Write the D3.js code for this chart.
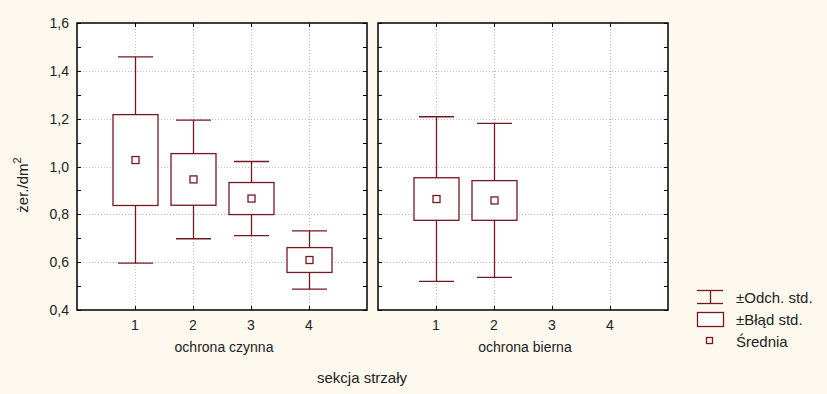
<!DOCTYPE html>
<html>
<head>
<meta charset="utf-8">
<script src="https://cdn.jsdelivr.net/npm/d3@7"></script>
<style>
  body { margin: 0; background: #fdf9ef; }
  svg { display: block; font-family: "Liberation Sans", Arial, sans-serif; }
</style>
</head>
<body>
<div id="chart"></div>
<script>
// sekcja strzały, one panel per type of protection
var sections = [1, 2, 3, 4];
var groups = ["ochrona czynna", "ochrona bierna"];
var yTicks = [0.4, 0.6, 0.8, 1.0, 1.2, 1.4, 1.6];

// mean, standard error and standard deviation
var meanCzynna = [1.027, 0.946, 0.866, 0.609];
var seCzynna = [0.190, 0.108, 0.067, 0.052];
var sdCzynna = [0.431, 0.248, 0.155, 0.122];
var meanBierna = [0.864, 0.858];
var seBierna = [0.089, 0.083];
var sdBierna = [0.344, 0.322];

var legendLabels = ["±Odch. std.", "±Błąd std.", "Średnia"];

var series = [
  {mean: meanCzynna, se: seCzynna, sd: sdCzynna},
  {mean: meanBierna, se: seBierna, sd: sdBierna}
];

var W = 827, H = 394;
var red = "#741822";
var panelW = 290, plotTop = 23, plotBottom = 310;
var panelX = [77, 378];

var svg = d3.select("#chart").append("svg")
  .attr("width", W).attr("height", H);

var y = d3.scaleLinear().domain([0.4, 1.6]).range([plotBottom, plotTop]);
var x = d3.scaleLinear().domain([0, 5]).range([0, panelW]);
var comma = d3.formatLocale({decimal: ",", thousands: " ", grouping: [3], currency: ["", ""]}).format(".1f");
var minor = d3.range(0.5, 1.6, 0.2);

groups.forEach(function(name, gi) {
  var g = svg.append("g").attr("transform", "translate(" + panelX[gi] + ",0)");
  var s = series[gi];

  g.append("rect")
    .attr("x", 0).attr("y", plotTop)
    .attr("width", panelW).attr("height", plotBottom - plotTop)
    .attr("fill", "#ffffff");

  // dotted grid
  g.selectAll("line.gy").data(yTicks.slice(1, -1)).enter().append("line")
    .attr("x1", 0).attr("x2", panelW)
    .attr("y1", function(d) { return Math.round(y(d)) + 0.5; })
    .attr("y2", function(d) { return Math.round(y(d)) + 0.5; })
    .attr("stroke", "#bdbdbd").attr("stroke-dasharray", "1,2");
  g.selectAll("line.gx").data(sections).enter().append("line")
    .attr("y1", plotTop).attr("y2", plotBottom)
    .attr("x1", function(d) { return Math.round(x(d)) + 0.5; })
    .attr("x2", function(d) { return Math.round(x(d)) + 0.5; })
    .attr("stroke", "#bdbdbd").attr("stroke-dasharray", "1,2");

  // inward ticks on every side
  var ticksY = yTicks.concat(minor);
  [0, panelW].forEach(function(edge) {
    var dir = edge === 0 ? 1 : -1;
    g.selectAll(null).data(ticksY).enter().append("line")
      .attr("x1", edge).attr("x2", edge + dir * 4)
      .attr("y1", function(d) { return Math.round(y(d)) + 0.5; })
      .attr("y2", function(d) { return Math.round(y(d)) + 0.5; })
      .attr("stroke", "#000");
  });
  [plotTop, plotBottom].forEach(function(edge) {
    var dir = edge === plotTop ? 1 : -1;
    g.selectAll(null).data(sections).enter().append("line")
      .attr("y1", edge).attr("y2", edge + dir * 4)
      .attr("x1", function(d) { return Math.round(x(d)) + 0.5; })
      .attr("x2", function(d) { return Math.round(x(d)) + 0.5; })
      .attr("stroke", "#000");
  });

  // whiskers: mean ± sd
  var idx = d3.range(s.mean.length);
  var marks = g.selectAll("g.mark").data(idx).enter().append("g")
    .attr("transform", function(i) { return "translate(" + (Math.round(x(sections[i])) + 0.5) + ",0)"; });
  marks.append("line")
    .attr("x1", 0).attr("x2", 0)
    .attr("y1", function(i) { return y(s.mean[i] + s.sd[i]); })
    .attr("y2", function(i) { return y(s.mean[i] - s.sd[i]); })
    .attr("stroke", red).attr("stroke-width", 1.3);
  [1, -1].forEach(function(sign) {
    marks.append("line")
      .attr("x1", -17.5).attr("x2", 17.5)
      .attr("y1", function(i) { return y(s.mean[i] + sign * s.sd[i]); })
      .attr("y2", function(i) { return y(s.mean[i] + sign * s.sd[i]); })
      .attr("stroke", red).attr("stroke-width", 1.3);
  });
  // box: mean ± se
  marks.append("rect")
    .attr("x", -22.5).attr("width", 45)
    .attr("y", function(i) { return y(s.mean[i] + s.se[i]); })
    .attr("height", function(i) { return y(s.mean[i] - s.se[i]) - y(s.mean[i] + s.se[i]); })
    .attr("fill", "#fff").attr("stroke", red).attr("stroke-width", 1.3);
  marks.append("rect")
    .attr("x", -3.5).attr("width", 7)
    .attr("y", function(i) { return y(s.mean[i]) - 3.5; })
    .attr("height", 7)
    .attr("fill", "none").attr("stroke", red).attr("stroke-width", 1.3);

  g.append("rect")
    .attr("x", 0).attr("y", plotTop)
    .attr("width", panelW).attr("height", plotBottom - plotTop)
    .attr("fill", "none").attr("stroke", "#000").attr("stroke-width", 1.5);

  // x labels
  g.selectAll("text.xl").data(sections).enter().append("text")
    .attr("x", function(d) { return x(d); })
    .attr("y", 330)
    .attr("text-anchor", "middle")
    .attr("font-size", 14).attr("fill", "#222")
    .text(function(d) { return d; });
  g.append("text")
    .attr("x", panelW / 2 + 2).attr("y", 352)
    .attr("text-anchor", "middle")
    .attr("font-size", 14).attr("fill", "#222")
    .text(name);
});

// y axis labels
svg.append("g").selectAll("text").data(yTicks).enter().append("text")
  .attr("x", 69)
  .attr("y", function(d) { return y(d) + 5; })
  .attr("text-anchor", "end")
  .attr("font-size", 14).attr("fill", "#222")
  .text(function(d) { return comma(d); });

var yl = svg.append("text")
  .attr("transform", "translate(28,185) rotate(-90)")
  .attr("text-anchor", "middle")
  .attr("font-size", 15).attr("fill", "#222");
yl.append("tspan").text("żer./dm");
yl.append("tspan").attr("dy", -7).attr("font-size", 11).text("2");

svg.append("text")
  .attr("x", 362).attr("y", 383)
  .attr("text-anchor", "middle")
  .attr("font-size", 15).attr("fill", "#222")
  .text("sekcja strzały");

// legend
var lg = svg.append("g").attr("transform", "translate(697,0)");
lg.append("line").attr("x1", 0).attr("x2", 26).attr("y1", 290.5).attr("y2", 290.5).attr("stroke", red).attr("stroke-width", 1.3);
lg.append("line").attr("x1", 0).attr("x2", 26).attr("y1", 303.5).attr("y2", 303.5).attr("stroke", red).attr("stroke-width", 1.3);
lg.append("line").attr("x1", 13.5).attr("x2", 13.5).attr("y1", 290.5).attr("y2", 303.5).attr("stroke", red).attr("stroke-width", 1.3);
lg.append("rect").attr("x", 0.5).attr("y", 312.5).attr("width", 26).attr("height", 14)
  .attr("fill", "#fff").attr("stroke", red).attr("stroke-width", 1.3);
lg.append("rect").attr("x", 9.5).attr("y", 337.5).attr("width", 6).attr("height", 6)
  .attr("fill", "none").attr("stroke", red).attr("stroke-width", 1.3);
lg.selectAll("text").data(legendLabels).enter().append("text")
  .attr("x", 39)
  .attr("y", function(d, i) { return 303 + i * 22; })
  .attr("font-size", 15).attr("fill", "#222")
  .text(function(d) { return d; });
</script>
</body>
</html>
